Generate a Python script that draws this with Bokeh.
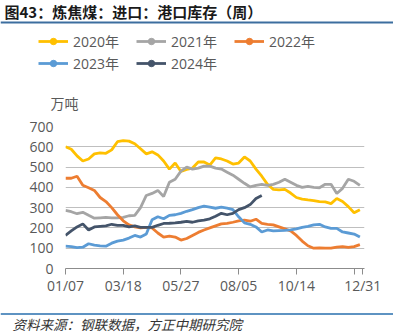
from bokeh.plotting import figure
from bokeh.layouts import column
from bokeh.models import (ColumnDataSource, Range1d, FixedTicker, Label, Legend,
                          LegendItem, Span)
from bokeh.embed import file_html
from bokeh.resources import INLINE

# ---------------- data ----------------
weeks = list(range(52))
weeks_2024 = list(range(35))

y2020 = [600, 588, 555, 530, 540, 565, 570, 568, 585, 625, 630, 628, 615, 590, 565, 575,
         560, 530, 490, 520, 478, 488, 495, 525, 525, 510, 545, 540, 530, 515, 520, 550,
         530, 490, 455, 415, 390, 388, 390, 372, 350, 342, 338, 335, 330, 328, 320, 345,
         330, 305, 275, 290]
y2021 = [287, 280, 270, 277, 262, 248, 250, 252, 250, 250, 252, 260, 262, 300, 360, 370,
         385, 355, 425, 440, 480, 500, 490, 495, 505, 505, 495, 490, 475, 460, 440, 420,
         402, 410, 415, 410, 415, 425, 440, 425, 410, 400, 405, 400, 398, 415, 415, 370,
         395, 440, 430, 410]
y2022 = [445, 445, 455, 410, 398, 385, 350, 330, 300, 265, 235, 215, 205, 200, 203, 200,
         175, 155, 160, 155, 140, 148, 163, 178, 190, 200, 210, 220, 222, 228, 235, 238,
         233, 243, 222, 218, 215, 205, 195, 185, 163, 135, 112, 100, 102, 100, 100, 105,
         108, 104, 108, 118]
y2023 = [110, 108, 103, 105, 122, 115, 112, 110, 125, 135, 140, 150, 163, 155, 170, 240,
         255, 245, 262, 265, 272, 282, 290, 300, 307, 302, 297, 302, 298, 290, 255, 225,
         218, 205, 180, 190, 185, 187, 188, 190, 195, 203, 208, 215, 218, 205, 198, 198,
         180, 175, 170, 155]
y2024 = [163, 185, 205, 220, 190, 205, 208, 210, 218, 213, 213, 205, 210, 203, 203, 203,
         213, 222, 223, 225, 228, 232, 228, 235, 238, 245, 258, 272, 265, 272, 290, 300,
         315, 345, 360]

series_names = ["2020年", "2021年", "2022年", "2023年", "2024年"]
series_colors = ["#FFC000", "#A5A5A5", "#ED7D31", "#5B9BD5", "#44546A"]

x_tick_pos = [0, 10, 20, 30, 40, 50, 51.5]
x_tick_labels = ["01/07", "03/18", "05/27", "08/05", "10/14", "", "12/31"]
y_ticks = [0, 100, 200, 300, 400, 500, 600, 700]

title_text = "图43：炼焦煤：进口：港口库存（周）"
unit_text = "万吨"
source_text = "资料来源：钢联数据，方正中期研究院"

LBL_FONT = "Open Sans, Noto Sans CJK SC"
W = 393
H_HEAD, H_MAIN, H_FOOT = 112, 188, 33
NAN = float("nan")


def blank_fig(h):
    f = figure(width=W, height=h, output_backend="svg", toolbar_location=None,
               x_range=Range1d(0, W), y_range=Range1d(h, 0),
               x_axis_type=None, y_axis_type=None,
               min_border_left=0, min_border_right=0, min_border_top=0,
               min_border_bottom=0, frame_align=False)
    f.outline_line_color = None
    f.xgrid.visible = False
    f.ygrid.visible = False
    f.border_fill_color = "white"
    f.background_fill_color = "white"
    return f


# ---------------- header: title, rule, legend, unit ----------------
head = blank_fig(H_HEAD)
head.add_layout(Label(x=4, y=11, text=title_text, text_font="Noto Sans CJK SC",
                      text_font_style="bold", text_font_size="15px",
                      text_color="#1a1a1a", text_baseline="middle"))
head.add_layout(Span(location=22, dimension="width", line_color="#3C6E9F", line_width=2))
head.add_layout(Label(x=50, y=102, text=unit_text, text_font="Noto Sans CJK SC",
                      text_font_size="14px", text_color="#595959", text_baseline="middle"))

leg_items = []
for name, color in zip(series_names, series_colors):
    lr = head.line(x=[NAN], y=[NAN], line_color=color, line_width=2.8)
    mk = head.scatter(x=[NAN], y=[NAN], marker="circle", size=10, fill_color=color,
                      line_color=color)
    leg_items.append(LegendItem(label=name, renderers=[lr, mk]))


def make_legend(its, loc):
    lg = Legend(items=its, orientation="horizontal", location=loc,
                glyph_width=30, glyph_height=16, label_standoff=5, spacing=17,
                padding=0, margin=0, border_line_color=None,
                background_fill_alpha=0, label_text_font=LBL_FONT,
                label_text_font_size="14px", label_text_color="#595959",
                label_height=20)
    head.add_layout(lg, "center")


make_legend(leg_items[:3], (38, H_HEAD - 51))
make_legend(leg_items[3:], (38, H_HEAD - 73))

# ---------------- main chart ----------------
p = figure(width=W, height=H_MAIN, output_backend="svg", toolbar_location=None,
           x_range=Range1d(0, 51.8), y_range=Range1d(0, 700),
           min_border_left=65, min_border_right=29, min_border_top=126 - H_HEAD,
           min_border_bottom=H_HEAD + H_MAIN - 268, frame_align=False)
p.outline_line_color = None
p.background_fill_color = "white"
p.border_fill_color = "white"

xa = p.xaxis[0]
xa.ticker = FixedTicker(ticks=x_tick_pos)
xa.major_label_overrides = {t: l for t, l in zip(x_tick_pos, x_tick_labels)}
xa.axis_line_color = "#8c8c8c"
xa.major_tick_line_color = "#8c8c8c"
xa.major_tick_out = 6
xa.major_tick_in = 0
xa.minor_tick_line_color = None
xa.major_label_text_font = LBL_FONT
xa.major_label_text_font_size = "14px"
xa.major_label_text_color = "#595959"
xa.major_label_standoff = 1

ya = p.yaxis[0]
ya.ticker = FixedTicker(ticks=y_ticks)
ya.axis_line_color = None
ya.major_tick_line_color = None
ya.minor_tick_line_color = None
ya.major_tick_out = 0
ya.major_tick_in = 0
ya.major_label_text_font = LBL_FONT
ya.major_label_text_font_size = "14px"
ya.major_label_text_color = "#595959"
ya.major_label_standoff = 12

p.xgrid.grid_line_color = None
p.ygrid.ticker = FixedTicker(ticks=y_ticks[1:])
p.ygrid.grid_line_color = "#bfbfbf"
p.ygrid.grid_line_width = 1

all_y = [y2020, y2021, y2022, y2023, y2024]
all_x = [weeks, weeks, weeks, weeks, weeks_2024]
for color, xs, ys in zip(series_colors, all_x, all_y):
    src = ColumnDataSource(data=dict(x=xs, y=ys))
    p.line("x", "y", source=src, line_color=color, line_width=2.8)

# ---------------- footer ----------------
foot = blank_fig(H_FOOT)
foot.add_layout(Span(location=13.5, dimension="width", line_color="#5E93C2", line_width=2))
foot.add_layout(Label(x=12, y=23.5, text=source_text, text_font="Noto Sans CJK SC",
                      text_font_style="italic", text_font_size="13.5px",
                      text_color="#333333", text_baseline="middle"))

layout = column(head, p, foot, spacing=0)
open("out.html", "w").write(file_html(layout, INLINE))
